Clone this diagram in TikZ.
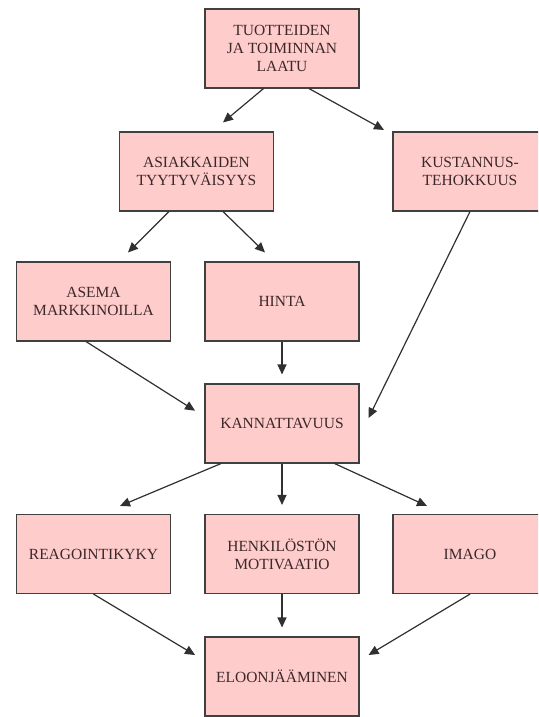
\documentclass[tikz,border=0pt]{standalone}
\usepackage{fontspec}
\setmainfont{Liberation Serif}
\usetikzlibrary{arrows.meta}
\definecolor{boxfill}{HTML}{FFCCCC}
\definecolor{boxline}{HTML}{404040}
\definecolor{txt}{HTML}{3C2828}
\definecolor{arr}{HTML}{303030}
\begin{document}
\begin{tikzpicture}[x=1pt,y=-1pt,
  box/.style={draw=boxline,line width=1.1pt,fill=boxfill,minimum width=154pt,minimum height=79pt,inner sep=0pt,align=center,text=txt,font=\fontsize{15.5}{18.3}\selectfont},
  conn/.style={draw=arr,line width=1.2pt,-{Triangle[length=10pt,width=9pt]}}]
\useasboundingbox (0,0) rectangle (538,717);
\fill[white] (0,0) rectangle (538,717);
\clip (0,0) rectangle (538,717);
\node[box] (top) at (282,48.5) {TUOTTEIDEN\\JA TOIMINNAN\\LAATU};
\node[box] (asiak) at (196.5,171.5) {ASIAKKAIDEN\\TYYTYVÄISYYS};
\node[box] (kust) at (470,171.5) {KUSTANNUS-\\TEHOKKUUS};
\node[box] (asema) at (93.5,301.5) {ASEMA\\MARKKINOILLA};
\node[box] (hinta) at (282,301.5) {HINTA};
\node[box] (kann) at (282,423.5) {KANNATTAVUUS};
\node[box] (reag) at (93.5,554) {REAGOINTIKYKY};
\node[box] (henk) at (282,554) {HENKILÖSTÖN\\MOTIVAATIO};
\node[box] (imago) at (470,554) {IMAGO};
\node[box] (eloon) at (282,676.5) {ELOONJÄÄMINEN};
\draw[conn] ([xshift=-18.5pt]top.south) -- ([xshift=26.5pt,yshift=9pt]asiak.north);
\draw[conn] ([xshift=27pt]top.south) -- ([xshift=-86pt,yshift=1.5pt]kust.north);
\draw[conn] ([xshift=-27.5pt]asiak.south) -- ([xshift=34.5pt,yshift=9pt]asema.north);
\draw[conn] ([xshift=26.5pt]asiak.south) -- ([xshift=-17pt,yshift=9pt]hinta.north);
\draw[conn] (kust.south) -- ([xshift=9pt,yshift=5.5pt]kann.east);
\draw[conn] ([xshift=-7.5pt]asema.south) -- ([xshift=-9.4pt,yshift=12.8pt]kann.west);
\draw[conn] (hinta.south) -- ([yshift=9pt]kann.north);
\draw[conn] ([xshift=-61pt]kann.south) -- ([xshift=26.5pt,yshift=8pt]reag.north);
\draw[conn] (kann.south) -- ([yshift=9pt]henk.north);
\draw[conn] ([xshift=52.6pt]kann.south) -- ([xshift=-43pt,yshift=8pt]imago.north);
\draw[conn] (reag.south) -- ([xshift=-9.4pt,yshift=21.5pt]eloon.west);
\draw[conn] (henk.south) -- ([yshift=9pt]eloon.north);
\draw[conn] (imago.south) -- ([xshift=9pt,yshift=21.5pt]eloon.east);
\end{tikzpicture}
\end{document}
